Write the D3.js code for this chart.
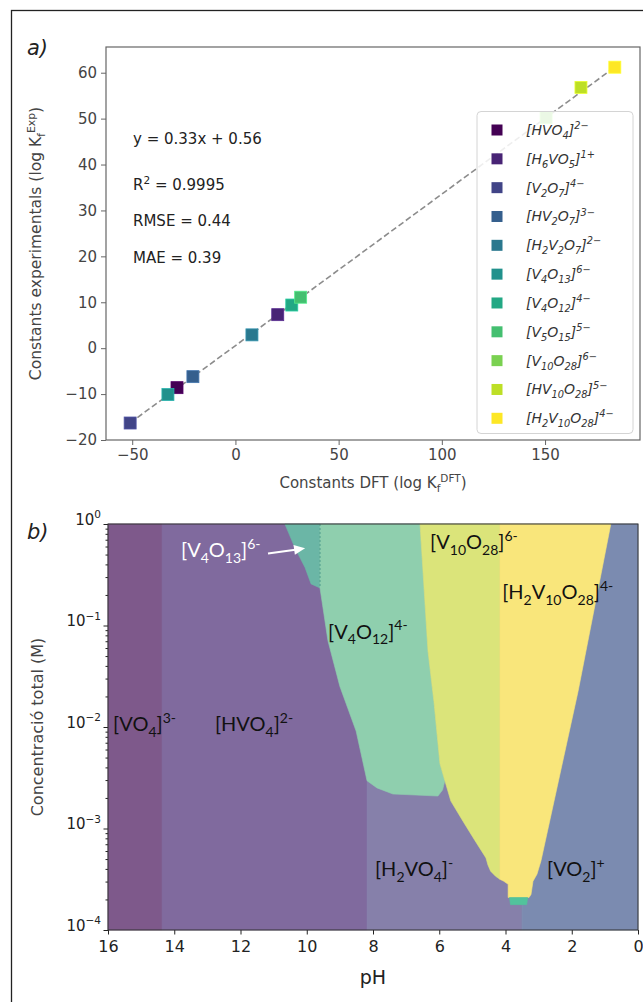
<!DOCTYPE html>
<html>
<head>
<meta charset="utf-8">
<script src="https://cdn.jsdelivr.net/npm/d3@7"></script>
<style>
  body { margin: 0; background: #fff; }
  svg { display: block; }
</style>
</head>
<body>
<div id="chart"></div>
<script>
// ---- panel a data ----
const species = ['[HVO_4]^{2−}', '[H_6VO_5]^{1+}', '[V_2O_7]^{4−}', '[HV_2O_7]^{3−}', '[H_2V_2O_7]^{2−}',
    '[V_4O_{13}]^{6−}', '[V_4O_{12}]^{4−}', '[V_5O_{15}]^{5−}', '[V_{10}O_{28}]^{6−}', '[HV_{10}O_{28}]^{5−}', '[H_2V_{10}O_{28}]^{4−}'];
const logKdft = [-28.3, 20.5, -51.0, -20.6, 8.0, -32.7, 27.3, 31.6, 150.5, 167.4, 183.8];
const logKexp = [-8.6, 7.3, -16.3, -6.2, 2.9, -10.1, 9.4, 11.1, 50.2, 56.8, 61.2];
const fitSlope = 0.33, fitIntercept = 0.56;
const statLines = ['y = 0.33x + 0.56', 'R^2 = 0.9995', 'RMSE = 0.44', 'MAE = 0.39'];
const xTicksA = [-50, 0, 50, 100, 150];
const yTicksA = [-20, -10, 0, 10, 20, 30, 40, 50, 60];

// ---- panel b data (pH, log10 concentration) ----
const regVO4 = [[16, 0], [14.37, 0], [14.37, -4], [16, -4]];
const regHVO4 = [[14.37, 0], [8.18, 0], [8.18, -4], [14.37, -4]];
const regH2VO4 = [[8.18, 0], [3.5, 0], [3.5, -4], [8.18, -4]];
const regVO2 = [[3.5, 0], [0, 0], [0, -4], [3.5, -4]];
const regV4O13 = [[10.66, 0], [9.6, 0], [9.6, -0.63], [9.87, -0.59], [10.05, -0.43], [10.35, -0.24]];
const regV4O12 = [[9.6, 0], [6.58, 0], [6.34, -1.25], [6.16, -1.75], [5.98, -2.36], [5.83, -2.53], [5.9, -2.62],
    [6.04, -2.68], [7.4, -2.66], [7.88, -2.6], [8.18, -2.53], [8.51, -2.04], [9.0, -1.6], [9.36, -1.15], [9.6, -0.63]];
const regV10O28 = [[6.58, 0], [4.17, 0], [4.17, -3.5], [4.3, -3.47], [4.45, -3.42], [4.53, -3.36], [4.59, -3.29],
    [4.92, -3.12], [5.28, -2.93], [5.65, -2.73], [5.83, -2.53], [5.98, -2.36], [6.16, -1.75], [6.34, -1.25]];
const regH2V10O28 = [[4.17, 0], [0.82, 0], [1.81, -1.65], [2.93, -3.32], [3.05, -3.45], [3.17, -3.52], [3.23, -3.65],
    [3.29, -3.68], [3.92, -3.68], [3.92, -3.55], [4.05, -3.52], [4.17, -3.5]];
const regTip = [[3.88, -3.68], [3.33, -3.68], [3.36, -3.75], [3.85, -3.75]];
const regions = [
    { pts: regVO4, color: '#7e598b' },
    { pts: regHVO4, color: '#806a9e' },
    { pts: regH2VO4, color: '#8680aa' },
    { pts: regVO2, color: '#7b8bb0' },
    { pts: regV4O13, color: '#6bb6a6' },
    { pts: regV4O12, color: '#8fcfae' },
    { pts: regV10O28, color: '#dbe47a' },
    { pts: regH2V10O28, color: '#f9e67b' },
    { pts: regTip, color: '#52c39c' },
];
const regionLabels = [
    { t: '[VO_4]^{3-}', ph: 15.85, lc: -2.04, fill: '#111' },
    { t: '[HVO_4]^{2-}', ph: 12.77, lc: -2.04, fill: '#111' },
    { t: '[V_4O_{13}]^{6-}', ph: 13.8, lc: -0.33, fill: '#fff' },
    { t: '[V_4O_{12}]^{4-}', ph: 9.36, lc: -1.13, fill: '#111' },
    { t: '[V_{10}O_{28}]^{6-}', ph: 6.28, lc: -0.25, fill: '#111' },
    { t: '[H_2V_{10}O_{28}]^{4-}', ph: 4.1, lc: -0.74, fill: '#111' },
    { t: '[H_2VO_4]^{-}', ph: 7.94, lc: -3.47, fill: '#111' },
    { t: '[VO_2]^{+}', ph: 2.75, lc: -3.47, fill: '#111' },
];
const arrowFrom = [11.17, -0.29], arrowTo = [10.05, -0.24];
const xTicksB = [16, 14, 12, 10, 8, 6, 4, 2, 0];
const yTicksB = [-4, -3, -2, -1, 0];

const width = 643, height = 1002;
const svg = d3.select('#chart').append('svg').attr('width', width).attr('height', height);

// writes simple markup with _sub and ^sup into a text element
function rich(text, s, fs) {
    const parts = [];
    let i = 0;
    while (i < s.length) {
        const c = s[i];
        if (c === '_' || c === '^') {
            i++;
            let content;
            if (s[i] === '{') { const j = s.indexOf('}', i); content = s.slice(i + 1, j); i = j + 1; }
            else { content = s[i]; i++; }
            parts.push({ t: content, k: c });
        } else {
            let j = i;
            while (j < s.length && s[j] !== '_' && s[j] !== '^') j++;
            parts.push({ t: s.slice(i, j), k: '' });
            i = j;
        }
    }
    let off = 0;
    parts.forEach(p => {
        const target = p.k === '_' ? 0.28 * fs : p.k === '^' ? -0.42 * fs : 0;
        text.append('tspan').attr('dy', target - off).attr('font-size', p.k ? fs * 0.7 : fs).text(p.t);
        off = target;
    });
    return text;
}

// outer frame
svg.append('rect').attr('x', 11.5).attr('y', 10.5).attr('width', 700).attr('height', 1100)
    .attr('fill', 'none').attr('stroke', '#222').attr('stroke-width', 1.3);

// ================= panel a =================
const A = { left: 106, right: 640, top: 47, bottom: 440 };
const xA = d3.scaleLinear().domain([-62.7, 196]).range([A.left, A.right]);
const yA = d3.scaleLinear().domain([-20, 65.6]).range([A.bottom, A.top]);
const tickFont = "'DejaVu Sans', sans-serif";

const gA = svg.append('g');
gA.append('g').attr('transform', `translate(0,${A.bottom})`)
    .call(d3.axisBottom(xA).tickValues(xTicksA).tickSizeOuter(0).tickSize(5).tickPadding(4));
gA.append('g').attr('transform', `translate(${A.left},0)`)
    .call(d3.axisLeft(yA).tickValues(yTicksA).tickSizeOuter(0).tickSize(5).tickPadding(4));
gA.selectAll('.tick text').attr('font-family', tickFont).attr('font-size', 15).attr('fill', '#444');
gA.selectAll('.tick line').attr('stroke', '#666');
gA.selectAll('.domain').remove();
gA.append('rect').attr('x', A.left).attr('y', A.top).attr('width', A.right - A.left).attr('height', A.bottom - A.top)
    .attr('fill', 'none').attr('stroke', '#666').attr('stroke-width', 1.2);

// fit line
const xr = d3.extent(logKdft);
gA.append('line')
    .attr('x1', xA(xr[0])).attr('y1', yA(fitSlope * xr[0] + fitIntercept))
    .attr('x2', xA(xr[1])).attr('y2', yA(fitSlope * xr[1] + fitIntercept))
    .attr('stroke', '#8c8c8c').attr('stroke-width', 1.6).attr('stroke-dasharray', '6,3');

const color = d3.scaleOrdinal().domain(species).range(species.map((d, i) => d3.interpolateViridis(i / (species.length - 1))));
const sq = 12;
gA.append('g').selectAll('rect').data(species).join('rect')
    .attr('x', (d, i) => xA(logKdft[i]) - sq / 2)
    .attr('y', (d, i) => yA(logKexp[i]) - sq / 2)
    .attr('width', sq).attr('height', sq)
    .attr('fill', d => color(d))
    .attr('stroke', d => d3.color(color(d)).brighter(0.6)).attr('stroke-width', 0.8);

// stats text
const statY = [144, 190, 226, 263];
statLines.forEach((s, i) => {
    rich(gA.append('text').attr('x', 133).attr('y', statY[i]).attr('font-family', tickFont).attr('fill', '#222'), s, 15);
});

// legend
const leg = gA.append('g');
leg.append('rect').attr('x', 477).attr('y', 111.5).attr('width', 156).attr('height', 322).attr('rx', 4)
    .attr('fill', '#fff').attr('fill-opacity', 0.85).attr('stroke', '#d4d4d4');
species.forEach((s, i) => {
    const y = 130 + i * 28.83;
    leg.append('rect').attr('x', 497 - 5.5).attr('y', y - 5.5).attr('width', 11).attr('height', 11).attr('fill', color(s));
    rich(leg.append('text').attr('x', 526).attr('y', y + 5).attr('font-family', tickFont)
        .attr('font-style', 'italic').attr('fill', '#333'), s, 14);
});

// axis labels
rich(svg.append('text').attr('x', (A.left + A.right) / 2).attr('y', 488).attr('text-anchor', 'middle')
    .attr('font-family', tickFont).attr('fill', '#444'), 'Constants DFT (log K_f^{DFT})', 15);
rich(svg.append('text').attr('transform', `translate(41,${(A.top + A.bottom) / 2}) rotate(-90)`).attr('text-anchor', 'middle')
    .attr('font-family', tickFont).attr('fill', '#444'), 'Constants experimentals (log K_f^{Exp})', 15.5);
svg.append('text').attr('x', 27).attr('y', 55).attr('font-family', tickFont).attr('font-style', 'italic')
    .attr('font-size', 21).attr('fill', '#222').text('a)');

// ================= panel b =================
const B = { left: 108, right: 638, top: 524, bottom: 930 };
const xB = d3.scaleLinear().domain([16, 0]).range([B.left, B.right]);
const yB = d3.scaleLog().domain([1e-4, 1]).range([B.bottom, B.top]);
const gB = svg.append('g');
const poly = d3.line().x(d => xB(d[0])).y(d => yB(Math.pow(10, d[1])));

regions.forEach(r => {
    gB.append('path').attr('d', poly(r.pts) + 'Z').attr('fill', r.color).attr('stroke', r.color).attr('stroke-width', 0.6);
});
gB.append('path').attr('d', poly([[9.6, 0], [9.6, -0.63]])).attr('stroke', '#4f9c8c').attr('stroke-width', 1)
    .attr('stroke-dasharray', '2,2').attr('fill', 'none');

// labels
const labFont = "Lato, 'Open Sans', sans-serif";
regionLabels.forEach(l => {
    rich(gB.append('text').attr('x', xB(l.ph)).attr('y', yB(Math.pow(10, l.lc))).attr('font-family', labFont)
        .attr('fill', l.fill), l.t, 20);
});
// arrow
const ax1 = xB(arrowFrom[0]), ay1 = yB(Math.pow(10, arrowFrom[1]));
const ax2 = xB(arrowTo[0]), ay2 = yB(Math.pow(10, arrowTo[1]));
const ang = Math.atan2(ay2 - ay1, ax2 - ax1);
gB.append('line').attr('x1', ax1).attr('y1', ay1).attr('x2', ax2 - 8 * Math.cos(ang)).attr('y2', ay2 - 8 * Math.sin(ang))
    .attr('stroke', '#fff').attr('stroke-width', 2);
gB.append('path')
    .attr('d', `M${ax2},${ay2} L${ax2 - 11 * Math.cos(ang) + 5 * Math.sin(ang)},${ay2 - 11 * Math.sin(ang) - 5 * Math.cos(ang)} ` +
        `L${ax2 - 11 * Math.cos(ang) - 5 * Math.sin(ang)},${ay2 - 11 * Math.sin(ang) + 5 * Math.cos(ang)} Z`)
    .attr('fill', '#fff');

// axes
const minor = [];
for (let e = -4; e < 0; e++) for (let m = 2; m < 10; m++) minor.push(m * Math.pow(10, e));
gB.append('g').attr('transform', `translate(${B.left},0)`)
    .call(d3.axisLeft(yB).tickValues(minor).tickFormat('').tickSize(2.5).tickSizeOuter(0))
    .call(g => g.select('.domain').remove());
const yAxB = gB.append('g').attr('transform', `translate(${B.left},0)`)
    .call(d3.axisLeft(yB).tickValues(yTicksB.map(e => Math.pow(10, e))).tickFormat('').tickSize(4.5).tickSizeOuter(0).tickPadding(3));
yAxB.select('.domain').remove();
yAxB.selectAll('.tick').each(function (d, i) {
    const t = d3.select(this).append('text').attr('x', -7).attr('dy', '0.32em').attr('text-anchor', 'end')
        .attr('font-family', tickFont).attr('fill', '#222');
    const e = yTicksB[i];
    rich(t, '10^{' + (e < 0 ? '−' + (-e) : e) + '}', 15);
});
const xAxB = gB.append('g').attr('transform', `translate(0,${B.bottom})`)
    .call(d3.axisBottom(xB).tickValues(xTicksB).tickSize(4.5).tickSizeOuter(0).tickPadding(6));
xAxB.select('.domain').remove();
xAxB.selectAll('.tick text').attr('font-family', tickFont).attr('font-size', 16).attr('fill', '#222');
gB.selectAll('.tick line').attr('stroke', '#222');
gB.append('rect').attr('x', B.left).attr('y', B.top).attr('width', B.right - B.left).attr('height', B.bottom - B.top)
    .attr('fill', 'none').attr('stroke', '#333').attr('stroke-width', 1);

svg.append('text').attr('x', (B.left + B.right) / 2).attr('y', 984).attr('text-anchor', 'middle')
    .attr('font-family', tickFont).attr('font-size', 19).attr('fill', '#222').text('pH');
svg.append('text').attr('transform', `translate(43,${(B.top + B.bottom) / 2}) rotate(-90)`).attr('text-anchor', 'middle')
    .attr('font-family', tickFont).attr('font-size', 16).attr('fill', '#444').text('Concentració total (M)');
svg.append('text').attr('x', 27).attr('y', 539).attr('font-family', tickFont).attr('font-style', 'italic')
    .attr('font-size', 21).attr('fill', '#222').text('b)');
</script>
</body>
</html>
